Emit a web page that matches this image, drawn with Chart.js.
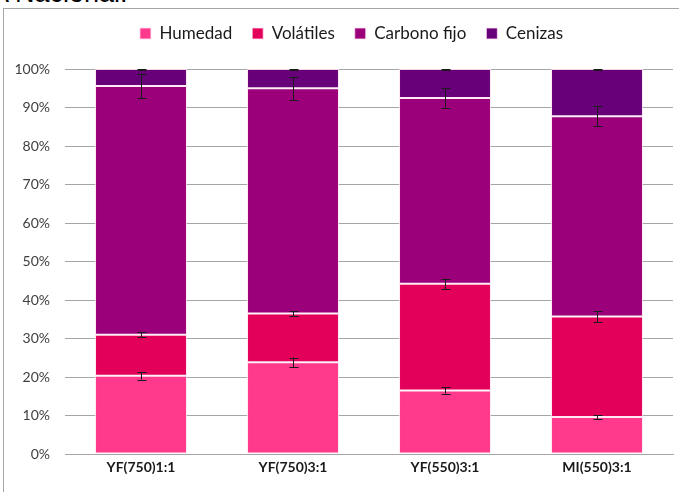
<!DOCTYPE html>
<html>
<head>
<meta charset="utf-8">
<script src="https://cdn.jsdelivr.net/npm/chart.js@4/dist/chart.umd.min.js"></script>
<style>
  html, body { margin: 0; padding: 0; background: #fff; overflow: hidden; }
  #wrap { position: relative; width: 679px; height: 492px; }
  #cut { position: absolute; left: -9px; top: -22px; font: 27px "Liberation Sans", Arial, sans-serif; color: #000; white-space: nowrap; }
  #frame { position: absolute; left: 3px; top: 8px; width: 700px; height: 500px; border-left: 1px solid #a6a6a6; border-top: 1px solid #a6a6a6; }
  #usageChart { position: absolute; left: 0; top: 0; }
</style>
</head>
<body>
<div id="wrap">
  <div id="cut">A Nacional.</div>
  <div id="frame"></div>
  <canvas id="usageChart" width="679" height="492"></canvas>
</div>
<script>
// --- Data ---
const categories = ['YF(750)1:1', 'YF(750)3:1', 'YF(550)3:1', 'MI(550)3:1'];
const seriesNames = ['Humedad', 'Volátiles', 'Carbono fijo', 'Cenizas'];
const colors = ['#FF3A8C', '#E3005A', '#9B007A', '#68007A'];

// percentages per series (stacked, sums to 100)
const humedad   = [20.3, 23.8, 16.5, 9.6];
const volatiles = [10.7, 12.7, 27.7, 26.1];
const carbono   = [64.6, 58.5, 48.3, 52.0];
const cenizas   = [4.4, 5.0, 7.5, 12.3];

// error bar half-widths (percent), drawn at top of each segment
const errHumedad   = [1.0, 1.25, 0.8, 0.5];
const errVolatiles = [0.6, 0.65, 1.3, 1.4];
const errCarbono   = [3.2, 3.0, 2.5, 2.6];
const errCenizas   = [0.15, 0.15, 0.15, 0.15];

const yTicks = [0, 10, 20, 30, 40, 50, 60, 70, 80, 90, 100];

const seriesData = [humedad, volatiles, carbono, cenizas];
const seriesErr = [errHumedad, errVolatiles, errCarbono, errCenizas];

// --- Error bar plugin ---
const errorBars = {
    id: 'errorBars',
    afterDatasetsDraw(chart) {
        const ctx = chart.ctx;
        const yScale = chart.scales.y;
        const xScale = chart.scales.x;
        ctx.save();
        ctx.strokeStyle = '#1a1a1a';
        ctx.lineWidth = 1;
        seriesData.forEach((vals, i) => {
            vals.forEach((v, j) => {
                let cum = 0;
                for (let k = 0; k <= i; k++) cum += seriesData[k][j];
                const x = Math.round(xScale.getPixelForValue(j)) + 0.5;
                const yTop = yScale.getPixelForValue(Math.min(cum + seriesErr[i][j], 100));
                const yBot = yScale.getPixelForValue(cum - seriesErr[i][j]);
                ctx.beginPath();
                ctx.moveTo(x, yTop); ctx.lineTo(x, yBot);
                ctx.moveTo(x - 4, Math.round(yTop) + 0.5); ctx.lineTo(x + 5, Math.round(yTop) + 0.5);
                ctx.moveTo(x - 4, Math.round(yBot) + 0.5); ctx.lineTo(x + 5, Math.round(yBot) + 0.5);
                ctx.stroke();
            });
        });
        ctx.restore();
    }
};

// extra room below the legend, and nudge it right a bit
const legendGap = {
    id: 'legendGap',
    afterInit(chart) {
        const lg = chart.legend;
        if (!lg) return;
        const origFit = lg.fit;
        lg.fit = function () {
            origFit.call(this);
            this.height += 17;
        };
    },
    afterLayout(chart) {
        const lg = chart.legend;
        if (!lg) return;
        lg.left += 15;
        lg.right += 15;
    }
};

const font = '"Lato", "Open Sans", sans-serif';

new Chart(document.getElementById('usageChart').getContext('2d'), {
    type: 'bar',
    data: {
        labels: categories,
        datasets: seriesNames.map((name, i) => ({
            label: name,
            data: seriesData[i],
            backgroundColor: colors[i],
            borderColor: 'rgba(255,225,240,0.8)',
            borderWidth: 1,
            borderSkipped: false,
            barPercentage: 0.605,
            categoryPercentage: 1
        }))
    },
    options: {
        responsive: false,
        animation: false,
        layout: { padding: { left: 0, right: 6, top: 5, bottom: 0 } },
        plugins: {
            legend: {
                position: 'top',
                labels: {
                    boxWidth: 11, boxHeight: 11, padding: 20,
                    color: '#1a1a1a',
                    font: { family: font, size: 17 }
                }
            },
            tooltip: { enabled: false }
        },
        scales: {
            x: {
                stacked: true,
                grid: { display: false, drawTicks: false },
                border: { color: '#a6a6a6', width: 1 },
                ticks: { color: '#1a1a1a', padding: 5, font: { family: font, size: 14, weight: 'bold' } },
                afterFit: (scale) => { scale.height = 38; }
            },
            y: {
                stacked: true,
                min: 0, max: 100,
                afterBuildTicks: (scale) => { scale.ticks = yTicks.map(v => ({ value: v })); },
                grid: { color: '#a6a6a6', drawTicks: false },
                border: { display: false },
                ticks: {
                    color: '#404040', padding: 15,
                    font: { family: font, size: 14 },
                    callback: (v) => v + '%'
                },
                afterFit: (scale) => { scale.width = 65; }
            }
        }
    },
    plugins: [errorBars, legendGap]
});
</script>
</body>
</html>
